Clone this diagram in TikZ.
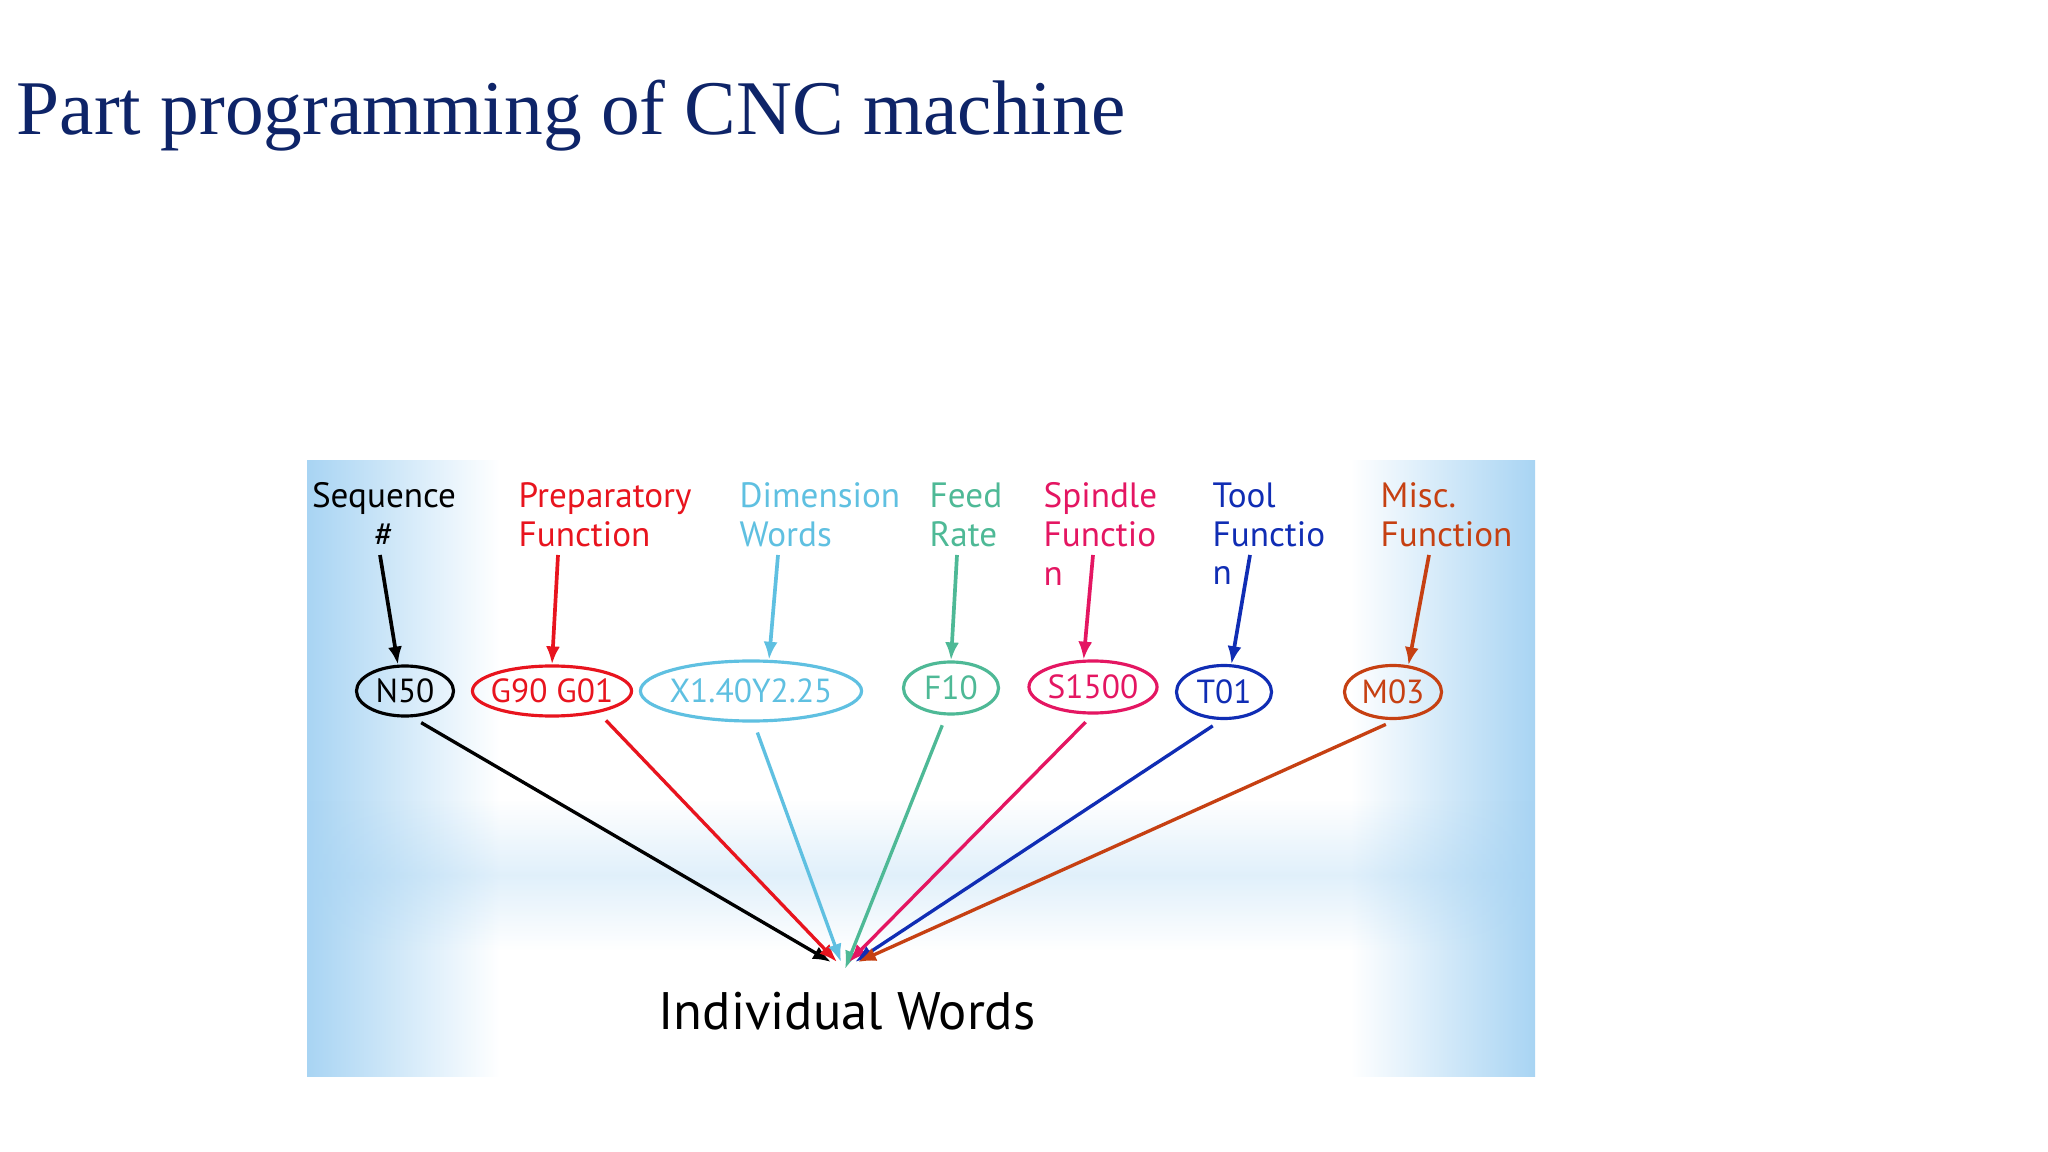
\documentclass[tikz,border=0pt]{standalone}
\usepackage{fontspec}
\setmainfont{Liberation Serif}
\newfontfamily\labfont{PT Sans}
\usetikzlibrary{arrows.meta,positioning,shapes.geometric,fadings}

\definecolor{titleblue}{RGB}{14,36,104}
\definecolor{bgblue}{RGB}{168,212,243}
\definecolor{cred}{RGB}{232,20,30}
\definecolor{csky}{RGB}{95,192,225}
\definecolor{cgreen}{RGB}{78,185,150}
\definecolor{cpink}{RGB}{228,22,98}
\definecolor{cblue}{RGB}{16,45,180}
\definecolor{corange}{RGB}{198,64,18}

\tikzfading[name=bandfade,top color=transparent!100,bottom color=transparent!100,middle color=transparent!65]

\begin{document}
\begin{tikzpicture}[x=0.01cm,y=-0.01cm,>=Latex,
  lbl/.style={anchor=north west,align=left,inner sep=0pt,font=\labfont\fontsize{10}{11}\selectfont},
  word/.style={draw,ellipse,line width=0.9pt,inner ysep=0pt,inner xsep=-3pt,minimum height=0.5cm,font=\labfont\fontsize{9.5}{12}\selectfont},
  tarr/.style={-{Latex[length=1.8mm,width=1.4mm]},line width=1.05pt},
  barr/.style={-{Latex[length=1.8mm,width=1.4mm]},line width=0.95pt,shorten <=3pt}]
\useasboundingbox (0,0) rectangle (2048,1152);
\fill[white] (0,0) rectangle (2048,1152);

% title
\node[anchor=base west,inner sep=0pt,text=titleblue,font=\fontsize{22}{26}\selectfont] (title) at (16,135) {Part programming of CNC machine};

% background panel
\shade[left color=bgblue,right color=white] (307,461) rectangle (500,1076);
\shade[left color=white,right color=bgblue] (1350,461) rectangle (1535,1076);
\fill[bgblue,path fading=bandfade] (307,800) rectangle (1535,950);

% labels
\node[lbl,anchor=north,align=center,text=black] (seq) at (384,482) {Sequence\\\#};
\node[lbl,text=cred] (prep) at (518,482) {Preparatory\\Function};
\node[lbl,text=csky] (dim) at (739,482) {Dimension\\Words};
\node[lbl,text=cgreen] (feed) at (929,482) {Feed\\Rate};
\node[lbl,text=cpink] (spin) at (1043,482) {Spindle\\Functio\\n};
\node[lbl,text=cblue] (tool) at (1212,482) {Tool\\Functio\\n};
\node[lbl,text=corange] (misc) at (1380,482) {Misc.\\Function};

% words
\node[word,color=black,minimum width=0.97cm] (n50) at (405,691) {N50};
\node[word,color=cred,minimum width=1.59cm] (g90) at (552,691) {G90 G01};
\node[word,color=csky,minimum width=2.21cm,minimum height=0.6cm] (x140) at (751,691) {X1.40Y2.25};
\node[word,color=cgreen,minimum width=0.95cm,minimum height=0.52cm] (f10) at (951,688) {F10};
\node[word,color=cpink,minimum width=1.28cm,minimum height=0.52cm] (s1500) at (1093,687) {S1500};
\node[word,color=cblue,minimum width=0.95cm,minimum height=0.53cm] (t01) at (1224,692) {T01};
\node[word,color=corange,minimum width=0.97cm,minimum height=0.53cm] (m03) at (1393,692) {M03};

\node[anchor=base,inner sep=0pt,font=\labfont\fontsize{15}{18}\selectfont] (iw) at (847,1029) {Individual Words};
\coordinate (hub) at (845,962);

% arrow start points
\coordinate (a1) at (380,555);
\coordinate (a2) at (558,555);
\coordinate (a3) at (778,555);
\coordinate (a4) at (957,555);
\coordinate (a5) at (1093,555);
\coordinate (a6) at (1250,555);
\coordinate (a7) at (1429,555);

\draw[tarr,black] (a1) -- (n50.105);
\draw[tarr,cred] (a2) -- (g90.north);
\draw[tarr,csky] (a3) -- (x140.60);
\draw[tarr,cgreen] (a4) -- (f10.north);
\draw[tarr,cpink] (a5) -- (s1500.109);
\draw[tarr,cblue] (a6) -- (t01.75);
\draw[tarr,corange] (a7) -- (m03.60);

\draw[barr,black] (n50.-75) -- ([xshift=-1.4mm]hub);
\draw[barr,cred] (g90.-25) -- ([xshift=-0.8mm]hub);
\draw[barr,csky] (x140.-85) -- ([xshift=-0.4mm]hub);
\draw[barr,cgreen] (f10.-100) -- ([yshift=-0.7mm]hub);
\draw[barr,cpink] (s1500.-90) -- ([xshift=0.4mm]hub);
\draw[barr,cblue] (t01.-95) -- ([xshift=1mm]hub);
\draw[barr,corange] (m03.-85) -- ([xshift=1.3mm]hub);
\end{tikzpicture}
\end{document}
